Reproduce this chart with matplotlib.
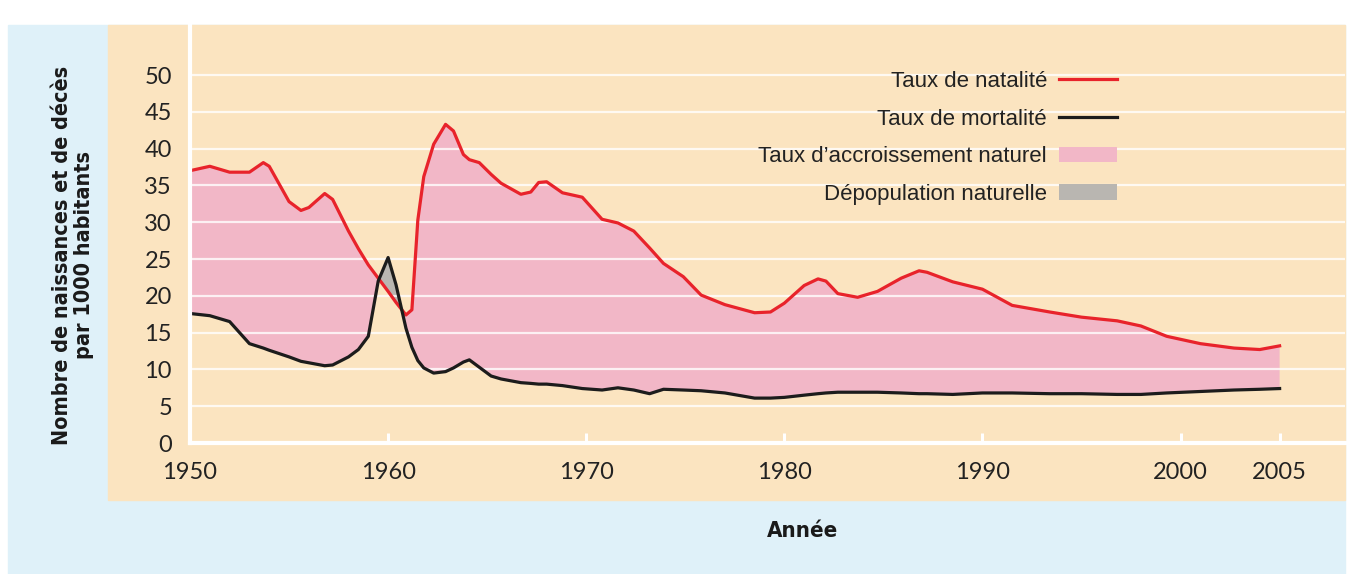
import numpy as np
import matplotlib
matplotlib.use("Agg")
import matplotlib.pyplot as plt
from matplotlib import font_manager
from matplotlib.lines import Line2D
from matplotlib.patches import Patch, Rectangle

# valeurs (pour 1000 habitants)
annees = [1950, 1951, 1952, 1953, 1953.7, 1954, 1955, 1955.6, 1956, 1956.8, 1957.2,
          1958, 1958.5, 1959, 1959.5, 1960, 1960.4, 1960.9, 1961.2, 1961.5, 1961.8,
          1962.3, 1962.9, 1963.3, 1963.8, 1964.1, 1964.6, 1965.2, 1965.7, 1966.7,
          1967.2, 1967.6, 1968, 1968.8, 1969.8, 1970.8, 1971.6, 1972.4, 1973.2,
          1973.9, 1974.9, 1975.8, 1977, 1978.5, 1979.3, 1980, 1981, 1981.7, 1982.1,
          1982.7, 1983.7, 1984.7, 1985.9, 1986.8, 1987.2, 1988.5, 1990, 1991.5,
          1993.4, 1995, 1996.8, 1998, 1999.3, 2001, 2002.7, 2004, 2005]
natalite = [37.0, 37.6, 36.8, 36.8, 38.1, 37.6, 32.8, 31.6, 32.0, 33.9, 33.1,
            28.8, 26.4, 24.2, 22.4, 20.6, 19.1, 17.4, 18.1, 30.3, 36.2,
            40.6, 43.3, 42.4, 39.2, 38.5, 38.1, 36.5, 35.3, 33.8,
            34.1, 35.4, 35.5, 34.0, 33.4, 30.4, 29.9, 28.8, 26.5,
            24.4, 22.6, 20.1, 18.8, 17.7, 17.8, 19.0, 21.4, 22.3, 22.0,
            20.3, 19.8, 20.6, 22.4, 23.4, 23.2, 21.9, 20.9, 18.7,
            17.8, 17.1, 16.6, 15.9, 14.5, 13.5, 12.9, 12.7, 13.2]
mortalite = [17.6, 17.3, 16.5, 13.5, 12.9, 12.6, 11.7, 11.1, 10.9, 10.5, 10.6,
             11.7, 12.7, 14.5, 22.0, 25.2, 21.5, 15.6, 13.0, 11.2, 10.2,
             9.5, 9.7, 10.2, 11.0, 11.3, 10.3, 9.1, 8.7, 8.2,
             8.1, 8.0, 8.0, 7.8, 7.4, 7.2, 7.5, 7.2, 6.7,
             7.3, 7.2, 7.1, 6.8, 6.1, 6.1, 6.2, 6.5, 6.7, 6.8,
             6.9, 6.9, 6.9, 6.8, 6.7, 6.7, 6.6, 6.8, 6.8,
             6.7, 6.7, 6.6, 6.6, 6.8, 7.0, 7.2, 7.3, 7.4]

annees_ticks = [1950, 1960, 1970, 1980, 1990, 2000, 2005]
y_ticks = list(range(0, 55, 5))

bleu = "#dff1f9"
beige = "#fbe4c0"
rose = "#f2b7c7"
gris = "#b9b6b1"
rouge = "#e8232b"
noir = "#1c1c1c"

noms = {f.name for f in font_manager.fontManager.ttflist}
if "Liberation Sans Narrow" in noms:
    etroite, taille_y = "Liberation Sans Narrow", 17
else:
    etroite, taille_y = "DejaVu Sans", 15.5
fine = "Lato" if "Lato" in noms else "DejaVu Sans"

W, H = 1356, 574
fig = plt.figure(figsize=(W / 100, H / 100), dpi=100, facecolor="white")

def fx(px):
    return px / W

def fy(py):
    return 1 - py / H

# fonds
fig.patches.append(Rectangle((fx(8), fy(574)), fx(1345 - 8), (574 - 25) / H,
                             transform=fig.transFigure, color=bleu, zorder=-2))
fig.patches.append(Rectangle((fx(108), fy(500)), fx(1345 - 108), (500 - 25) / H,
                             transform=fig.transFigure, color=beige, zorder=-1))

ax = fig.add_axes([fx(190), fy(443), fx(1345 - 190), (443 - 25) / H])
ax.set_zorder(1)
ax.set_facecolor(beige)

a = np.array(annees)
n = np.array(natalite)
m = np.array(mortalite)

ax.fill_between(a, m, n, where=n >= m, interpolate=True, color=rose, lw=0, zorder=1)
ax.fill_between(a, m, n, where=n < m, interpolate=True, color=gris, lw=0, zorder=1)
ax.plot(a, n, color=rouge, lw=2.3, zorder=3, solid_joinstyle="round")
ax.plot(a, m, color=noir, lw=2.3, zorder=3, solid_joinstyle="round")

ax.set_xlim(1950, 2008.3)
ax.set_ylim(0, 56.8)

ax.set_yticks(y_ticks)
ax.set_xticks(annees_ticks)
ax.yaxis.grid(True, color="white", lw=1.6, alpha=0.8)
ax.set_axisbelow(False)

for s in ["top", "right"]:
    ax.spines[s].set_visible(False)
for s in ["left", "bottom"]:
    ax.spines[s].set_color("white")
    ax.spines[s].set_linewidth(3)
    ax.spines[s].set_zorder(4)

ax.tick_params(axis="y", length=0, pad=13, labelsize=17, labelcolor="#222222")
ax.tick_params(axis="x", direction="in", length=7, width=2.2, color="white",
               pad=14, labelsize=17, labelcolor="#222222")
for lab in ax.get_xticklabels() + ax.get_yticklabels():
    lab.set_family(fine)

fig.text(fx(73), fy(255), "Nombre de naissances et de décès\npar 1000 habitants",
         rotation=90, ha="center", va="center", fontsize=taille_y, fontweight="bold",
         family=etroite, fontstretch="condensed", linespacing=1.15, color="#1a1a1a")
fig.text(fx(803), fy(531), "Année", ha="center", va="center", fontsize=16,
         fontweight="bold", family=etroite, fontstretch="condensed", color="#1a1a1a")

poignees = [Line2D([], [], color=rouge, lw=2.3),
            Line2D([], [], color=noir, lw=2.3),
            Patch(facecolor=rose, edgecolor="none"),
            Patch(facecolor=gris, edgecolor="none")]
textes = ["Taux de natalité", "Taux de mortalité",
          "Taux d\u2019accroissement naturel", "Dépopulation naturelle"]
leg = ax.legend(poignees, textes, loc="upper right", markerfirst=False,
                frameon=False, bbox_to_anchor=(fx(1117), fy(71)),
                bbox_transform=fig.transFigure, borderaxespad=0, borderpad=0,
                handlelength=2.6, handleheight=0.7, handletextpad=0.55,
                labelspacing=0.75, prop={"family": "Liberation Sans", "size": 16})
for t in leg.get_texts():
    t.set_color("#222222")

fig.savefig("out.png", dpi=100, facecolor="white")
